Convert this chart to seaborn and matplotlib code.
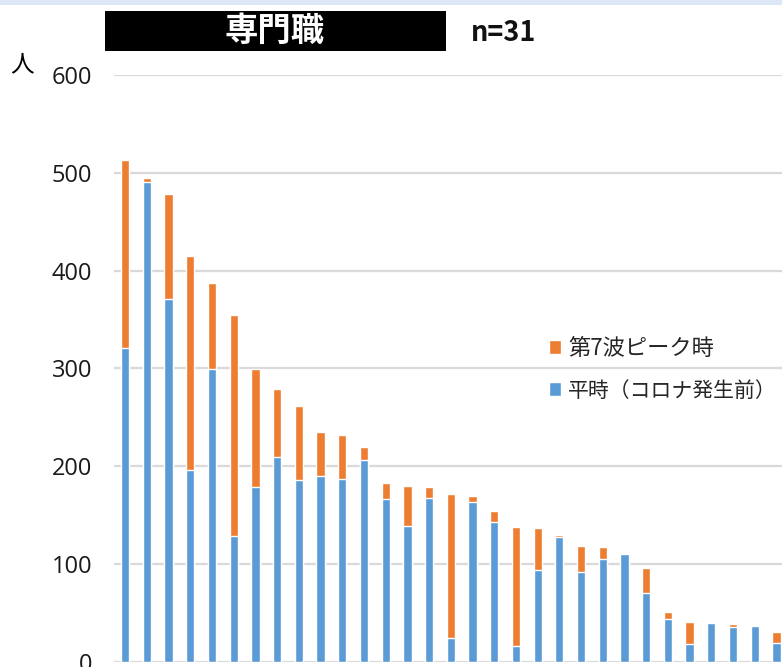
import matplotlib
matplotlib.use("Agg")
import matplotlib.pyplot as plt
from matplotlib.patches import Rectangle, Patch
import seaborn as sns
import pandas as pd

# ---- data ----
facilities = ["1", "2", "3", "4", "5", "6", "7", "8", "9", "10",
              "11", "12", "13", "14", "15", "16", "17", "18", "19", "20",
              "21", "22", "23", "24", "25", "26", "27", "28", "29", "30", "31"]
normal_vals = [321, 490, 371, 196, 299, 129, 179, 209, 186, 190,
               187, 206, 166, 139, 167, 24, 163, 143, 16, 94,
               128, 92, 105, 110, 70, 44, 18, 40, 35, 37, 19]
peak_vals = [513, 495, 478, 415, 387, 355, 299, 279, 261, 235,
             232, 220, 183, 180, 179, 171, 169, 154, 138, 137,
             130, 118, 117, 110, 96, 51, 41, 40, 39, 37, 30]
label_peak = "第7波ピーク時"
label_normal = "平時（コロナ発生前）"
title_text = "専門職"
n_text = "n=31"
y_ticks = [0, 100, 200, 300, 400, 500, 600]

df = pd.DataFrame({"facility": facilities, "normal": normal_vals, "peak": peak_vals})

ORANGE = "#ED7D31"
BLUE = "#5B9BD5"
GRID = "#D9D9D9"

sns.set_theme(style="white")
plt.rcParams["font.family"] = ["Noto Sans CJK JP", "DejaVu Sans"]

fig = plt.figure(figsize=(7.82, 6.67), dpi=100)
W, H = 782, 667
ax = fig.add_axes([114.3 / W, (H - 661.7) / H, 673.0 / W, 586.8 / H])

sns.barplot(data=df, x="facility", y="peak", color=ORANGE, width=0.38,
            saturation=1, ax=ax, order=facilities, errorbar=None)
sns.barplot(data=df, x="facility", y="normal", color=BLUE, width=0.38,
            saturation=1, ax=ax, order=facilities, errorbar=None)

ax.set_xlim(-0.5, len(facilities) - 0.5)
ax.set_ylim(0, 600)
ax.set_yticks(y_ticks)
ax.set_yticklabels([str(v) for v in y_ticks], fontsize=17, color="#1a1a1a",
                   family=["Open Sans", "DejaVu Sans"])
ax.set_xticks([])
ax.set_xlabel("")
ax.set_ylabel("")
ax.yaxis.grid(True, color=GRID, linewidth=1.6)
ax.set_axisbelow(True)
ax.tick_params(axis="y", length=0, pad=16)
for s in ax.spines.values():
    s.set_visible(False)

# legend
handles = [Patch(facecolor=ORANGE, label=label_peak),
           Patch(facecolor=BLUE, label=label_normal)]
leg = fig.legend(handles=handles, loc="center left",
                 bbox_to_anchor=(549 / W, 1 - 369.5 / H), frameon=False,
                 fontsize=16, handlelength=0.55, handleheight=0.55,
                 handletextpad=0.3, labelspacing=0.9, borderaxespad=0, borderpad=0)
leg.get_texts()[1].set_fontsize(15.0)

# top band
fig.patches.append(Rectangle((0, 1 - 5 / H), 1, 5 / H, transform=fig.transFigure,
                             facecolor="#DDE7F7", edgecolor="none", zorder=0))
# title box
fig.patches.append(Rectangle((105 / W, 1 - 50.7 / H), 341 / W, 39.7 / H,
                             transform=fig.transFigure, facecolor="black",
                             edgecolor="none", zorder=1))
fig.text(274.5 / W, 1 - 31 / H, title_text, color="white", fontsize=24,
         fontweight="bold", ha="center", va="center", zorder=2)
fig.text(471 / W, 1 - 33 / H, n_text, color="#111111", fontsize=19.5,
         fontweight="bold", ha="left", va="center")
fig.text(22 / W, 1 - 65 / H, "人", color="black", fontsize=17,
         ha="center", va="center")

fig.savefig("out.png", dpi=100)
